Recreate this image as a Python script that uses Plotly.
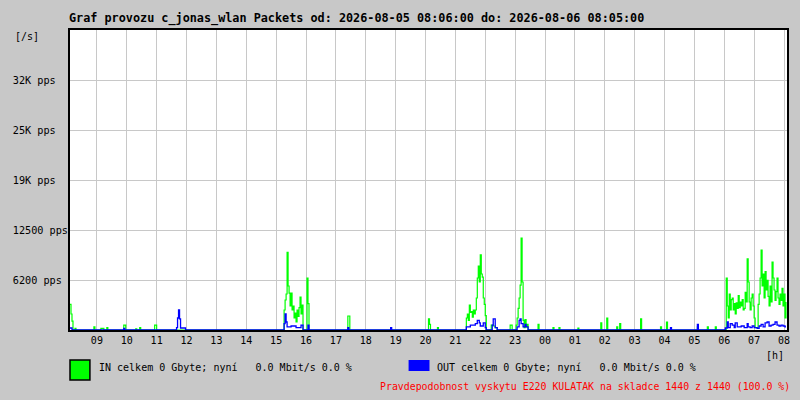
import pandas as pd
import plotly.graph_objects as go

# IN packets per second (green), sampled every 2 minutes where non-zero
IN_TIMES = [
    "08:06", "08:08", "08:10", "08:12", "08:16", "08:18", "08:54", "08:56",
    "09:08", "09:14", "09:20", "09:22", "09:54", "09:58", "10:18", "10:20",
    "10:26", "10:28", "10:56", "11:00",
    "15:14", "15:16", "15:18", "15:20", "15:22", "15:24", "15:26", "15:28",
    "15:30", "15:32", "15:34", "15:36", "15:38", "15:40", "15:42", "15:44",
    "15:46", "15:48", "15:50", "15:52", "15:54", "16:02", "16:04", "16:06",
    "17:24", "17:28",
    "20:06", "20:08", "20:10", "20:24", "20:26",
    "21:22", "21:24", "21:26", "21:28", "21:30", "21:32", "21:34", "21:36",
    "21:38", "21:40", "21:42", "21:44", "21:46", "21:48", "21:50", "21:52",
    "21:54", "21:56", "21:58", "22:00", "22:02", "22:12", "22:16", "22:20",
    "22:24", "22:50", "22:54",
    "23:02", "23:04", "23:06", "23:08", "23:10", "23:12", "23:14", "23:16",
    "23:18", "23:20", "23:22", "23:24", "23:26", "23:46", "23:48",
    "00:16", "00:18", "00:28", "00:30", "01:06", "01:08", "01:52", "01:54",
    "02:04", "02:06", "02:24", "02:26", "02:30", "02:32", "03:12", "03:14",
    "03:52", "03:54", "04:04", "04:06", "05:06", "05:08", "05:26", "05:28",
    "05:42", "05:44",
    "06:04", "06:06", "06:08", "06:10", "06:12", "06:14", "06:16", "06:18",
    "06:20", "06:22", "06:24", "06:26", "06:28", "06:30", "06:32", "06:34",
    "06:36", "06:38", "06:40", "06:42", "06:44", "06:46", "06:48", "06:50",
    "06:52", "06:54", "06:56", "06:58", "07:00", "07:02", "07:08", "07:10",
    "07:12", "07:14", "07:16", "07:18", "07:20", "07:22", "07:24", "07:26",
    "07:28", "07:30", "07:32", "07:34", "07:36", "07:38", "07:40", "07:42",
    "07:44", "07:46", "07:48", "07:50", "07:52", "07:54", "07:56", "07:58",
    "08:00", "08:02", "08:04",
]
IN_VALUES = [
    3200, 2000, 1100, 0, 200, 0, 400, 0,
    200, 0, 300, 0, 600, 0, 150, 0,
    300, 0, 600, 0,
    0, 2500, 3750, 4500, 9700, 5500, 4600, 3000,
    4600, 2500, 3000, 1500, 2100, 1000, 2500, 1700,
    2800, 4100, 2000, 3100, 0, 6500, 3300, 0,
    1750, 0,
    1400, 700, 0, 300, 0,
    1500, 2000, 1200, 3100, 2200, 2300, 1600, 2500,
    2000, 2500, 4000, 6500, 8000, 6000, 9400, 7000,
    6600, 4000, 3200, 1800, 0, 600, 500, 300,
    0, 600, 0,
    600, 1500, 2700, 4000, 5600, 11500, 6000, 1200,
    300, 1300, 400, 700, 0, 700, 0,
    300, 0, 300, 0, 250, 0, 900, 0,
    1500, 0, 400, 0, 800, 0, 1400, 0,
    400, 0, 1000, 0, 400, 0, 400, 0,
    400, 0,
    6500, 3000, 1500, 4500, 2500, 3800, 4000, 2500,
    3300, 2000, 3400, 2700, 4300, 2800, 3500, 3000,
    3800, 2500, 2700, 4700, 3500, 8900, 6000, 3500,
    2500, 4000, 4500, 3000, 1500, 300, 3200, 4500,
    6500, 10000, 5500, 7000, 4000, 7300, 5000, 6200,
    4200, 3000, 5500, 3500, 8500, 6500, 5000, 3700,
    4800, 6500, 4000, 3200, 4500, 3700, 5200, 3000,
    4500, 1500, 3500,
]

# OUT packets per second (blue)
OUT_TIMES = [
    "08:06", "08:10", "09:54", "09:56", "11:40", "11:42", "11:44", "11:46",
    "11:48", "11:58",
    "15:14", "15:16", "15:18", "15:20", "15:22", "15:30", "15:40", "15:50",
    "15:54", "16:04", "16:06", "17:24", "17:26", "18:50", "18:52",
    "21:22", "21:30", "21:40", "21:44", "21:48", "21:50", "21:56", "22:00",
    "22:02", "22:14", "22:16", "22:18", "22:20", "22:24",
    "23:04", "23:08", "23:10", "23:12", "23:16", "23:20", "23:22", "23:26",
    "04:12", "04:14", "05:06", "05:08",
    "06:02", "06:06", "06:08", "06:12", "06:16", "06:20", "06:22", "06:26",
    "06:34", "06:40", "06:46", "06:48", "06:52", "06:56", "07:00", "07:06",
    "07:10", "07:14", "07:18", "07:22", "07:26", "07:30", "07:34", "07:38",
    "07:42", "07:46", "07:50", "07:54", "07:58", "08:02", "08:04",
]
OUT_VALUES = [
    250, 0, 200, 0, 300, 1500, 2500, 1400,
    250, 0,
    0, 800, 2000, 1000, 400, 500, 300, 600,
    0, 600, 0, 300, 0, 300, 0,
    400, 600, 800, 1200, 900, 500, 900, 300,
    0, 600, 1400, 1400, 300, 0,
    400, 1200, 1400, 800, 400, 700, 400, 0,
    300, 0, 700, 0,
    250, 1000, 300, 800, 600, 300, 900, 400,
    500, 300, 800, 400, 300, 500, 300, 200,
    500, 700, 400, 900, 1000, 500, 600, 700,
    1000, 600, 500, 600, 500, 400, 400,
]

Y_TICKS = [6250, 12500, 18750, 25000, 31250]
Y_TICK_LABELS = ["6200 pps", "12500 pps", "19K pps", "25K pps", "32K pps"]

START = pd.Timestamp("2026-08-05 08:06")
END = pd.Timestamp("2026-08-06 08:06")

MONO = "DejaVu Sans Mono"
BG = "#c8c8c8"


def to_dates(times):
    out = []
    for t in times:
        ts = pd.Timestamp("2026-08-05 " + t)
        if ts < START:
            ts += pd.Timedelta(days=1)
        out.append(ts)
    return out


fig = go.Figure()
fig.add_trace(go.Scatter(
    x=to_dates(IN_TIMES), y=IN_VALUES, mode="lines", line_shape="hv",
    line=dict(color="#00ff00", width=1.2), showlegend=False,
))
fig.add_trace(go.Scatter(
    x=to_dates(OUT_TIMES), y=OUT_VALUES, mode="lines", line_shape="hv",
    line=dict(color="#0000ff", width=1.3), showlegend=False,
))

# left-aligned tick labels in a fixed font: pad with no-break spaces
width = max(len(s) for s in Y_TICK_LABELS)
padded = [s + "\u00a0" * (width - len(s)) for s in Y_TICK_LABELS]

fig.update_xaxes(
    type="date", range=[START, END], dtick=3600000, tickformat="%H",
    showgrid=True, gridcolor=BG, gridwidth=1,
    showline=True, linecolor="black", linewidth=2, mirror=True,
    ticks="", tickfont=dict(family=MONO, size=10, color="black"),
    fixedrange=True,
)
fig.update_yaxes(
    range=[0, 37500], tickvals=Y_TICKS, ticktext=padded,
    showgrid=True, gridcolor=BG, gridwidth=1, zeroline=False,
    showline=True, linecolor="black", linewidth=2, mirror=True,
    ticks="", tickfont=dict(family=MONO, size=10.2, color="black"),
    ticklabelstandoff=-2, fixedrange=True,
)

fig.update_layout(
    width=800, height=400,
    paper_bgcolor=BG, plot_bgcolor="white",
    margin=dict(l=70, r=10, t=30, b=70),
    title=dict(
        text="<b>Graf provozu c_jonas_wlan Packets od: 2026-08-05 08:06:00 do: 2026-08-06 08:05:00</b>",
        x=69 / 800, xanchor="left", xref="container",
        y=1 - 18 / 400, yanchor="middle", yref="container",
        font=dict(family=MONO, size=11.8, color="black"),
    ),
)

legend_in = "IN celkem 0 Gbyte; nyní \u00a0\u00a00.0 Mbit/s 0.0 %"
legend_out = "OUT celkem 0 Gbyte; nyní \u00a0\u00a00.0 Mbit/s 0.0 %"
footer = "Pravdepodobnost vyskytu E220 KULATAK na skladce 1440 z 1440 (100.0 %)"

fig.add_shape(type="rect", xref="paper", yref="paper",
              x0=0, x1=20 / 720, y0=-50 / 300, y1=-30 / 300,
              fillcolor="#00ff00", line=dict(color="black", width=1.5))
fig.add_shape(type="rect", xref="paper", yref="paper",
              x0=340 / 720, x1=361 / 720, y0=-41 / 300, y1=-30 / 300,
              fillcolor="#0000ff", line=dict(width=0))

annots = [
    dict(text="[/s]", x=13, y=37, anchor="left"),
    dict(text="[h]", x=789, y=355, anchor="right"),
    dict(text=legend_in, x=97, y=367, anchor="left"),
    dict(text=legend_out, x=437, y=367, anchor="left"),
]
for a in annots:
    fig.add_annotation(
        text=a["text"], xref="paper", yref="paper",
        x=(a["x"] - 70) / 720, y=(330 - a["y"]) / 300,
        xanchor=a["anchor"], yanchor="middle", showarrow=False,
        font=dict(family=MONO, size=10, color="black"),
    )
fig.add_annotation(
    text=footer, xref="paper", yref="paper",
    x=(795 - 70) / 720, y=(330 - 386) / 300,
    xanchor="right", yanchor="middle", showarrow=False,
    font=dict(family=MONO, size=9.9, color="#ff0000"),
)

# the page body has an 8px default margin; drop it so the chart fills the window
fig.write_html(
    "out.html",
    config={"displayModeBar": False},
    post_script="document.body.style.margin='0';",
)
